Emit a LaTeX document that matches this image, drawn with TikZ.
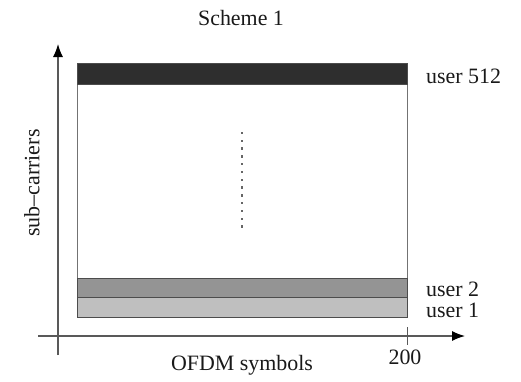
\documentclass[tikz,border=0pt]{standalone}
\usepackage{fontspec}
\setmainfont{Liberation Serif}
\usetikzlibrary{arrows.meta}
\begin{document}
\begin{tikzpicture}[x=1bp,y=-1bp,
  lbl/.style={inner sep=0pt,font=\fontsize{22}{26}\selectfont,text=black!90},
  axis/.style={draw=black!65,line width=1.2bp,-{Latex[length=13bp,width=10bp,color=black]}},
  band/.style={draw=black!70,line width=1bp,inner sep=0pt,minimum width=330bp,anchor=north west},
  dotm/.style={rectangle,fill=black!60,inner sep=0pt,minimum size=2.4bp}]
\useasboundingbox (0,0) rectangle (521,381);
% frame
\node[draw=black!55,line width=1bp,inner sep=0pt,minimum width=330bp,minimum height=254bp,anchor=north west] (frame) at (77,63) {};
\node[band,fill=black!82,minimum height=21bp] (u512) at (77,63) {};
\node[band,fill=black!42,minimum height=19bp] (u2) at (77,278) {};
\node[band,fill=black!25,minimum height=20bp] (u1) at (77,297) {};
% axes
\coordinate (yb) at (58,355);
\coordinate (yt) at (58,44);
\coordinate (xl) at (38,336);
\coordinate (xr) at (465,336);
\draw[axis] (yb) -- (yt);
\draw[axis] (xl) -- (xr);
\coordinate (tb) at (407,327);
\coordinate (te) at (407,345);
\draw[draw=black!65,line width=1bp] (tb) -- (te);
% dots
\foreach \i in {0,...,12} {\node[dotm] (d\i) at (242,133+7.8*\i) {};}
% labels
\node[lbl] (title) at (241,18) {Scheme 1};
\node[lbl] (xlab) at (242,365) {OFDM symbols};
\node[lbl,rotate=90] (ylab) at (32,183) {sub--carriers};
\node[lbl] (n200) at (405,357) {200};
\node[lbl,anchor=west] (l512) at (426,76) {user 512};
\node[lbl,anchor=west] (l2) at (426,289) {user 2};
\node[lbl,anchor=west] (l1) at (426,310) {user 1};
\end{tikzpicture}
\end{document}
